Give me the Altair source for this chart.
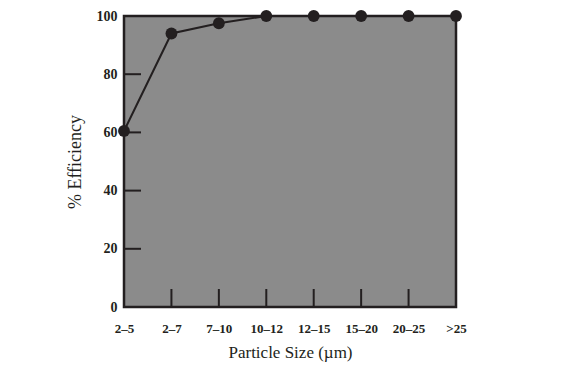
import altair as alt
import pandas as pd

categories = ["2–5", "2–7", "7–10", "10–12", "12–15", "15–20", "20–25", ">25"]
efficiency = [60.5, 94, 97.5, 100, 100, 100, 100, 100]
y_tick_values = [20, 40, 60, 80]

df = pd.DataFrame({"size": categories, "eff": efficiency})
xticks = pd.DataFrame({"size": categories[1:-1]})
yticks = pd.DataFrame({"eff": y_tick_values})

W, H = 332, 291
ink = "#231f20"
font = "Liberation Serif"

xs = alt.Scale(type="point", padding=0, domain=categories)
ys = alt.Scale(domain=[0, 100])

base = alt.Chart(df)

line = base.mark_line(color=ink, strokeWidth=2).encode(
    x=alt.X("size:N", scale=xs, sort=categories,
            axis=alt.Axis(title="Particle Size (µm)", labelAngle=0, labelAlign="center",
                          ticks=False, domain=False,
                          labelPadding=21, titlePadding=9, labelFont=font, labelFontWeight="bold",
                          labelFontSize=13, labelColor=ink, titleFont=font, titleFontSize=17,
                          titleFontWeight="normal", titleColor=ink, grid=False)),
    y=alt.Y("eff:Q", scale=ys,
            axis=alt.Axis(title="% Efficiency", values=[0, 20, 40, 60, 80, 100], ticks=False,
                          domain=False, grid=False, labelPadding=7, titlePadding=12,
                          labelFont=font, labelFontWeight="bold", labelFontSize=14,
                          labelColor=ink, titleFont=font, titleFontSize=18,
                          titleFontWeight="normal", titleColor=ink)),
)
pts = base.mark_point(filled=True, color=ink, size=140, opacity=1).encode(
    x=alt.X("size:N", scale=xs, sort=categories),
    y=alt.Y("eff:Q", scale=ys),
)
xt = alt.Chart(xticks).mark_rule(color=ink, strokeWidth=2).encode(
    x=alt.X("size:N", scale=xs, sort=categories),
    y=alt.value(H - 18), y2=alt.value(H),
)
yt = alt.Chart(yticks).mark_rule(color=ink, strokeWidth=2).encode(
    y=alt.Y("eff:Q", scale=ys),
    x=alt.value(0), x2=alt.value(17),
)

chart = alt.layer(xt, yt, line, pts).properties(
    width=W, height=H,
    autosize=alt.AutoSizeParams(type="none"),
    padding={"left": 116, "top": 8, "right": 112, "bottom": 71},
    background="white",
).configure_view(fill="#8b8b8b", stroke=ink, strokeWidth=2.5)

chart.save("out.html", embed_options={"renderer": "svg", "actions": False})
